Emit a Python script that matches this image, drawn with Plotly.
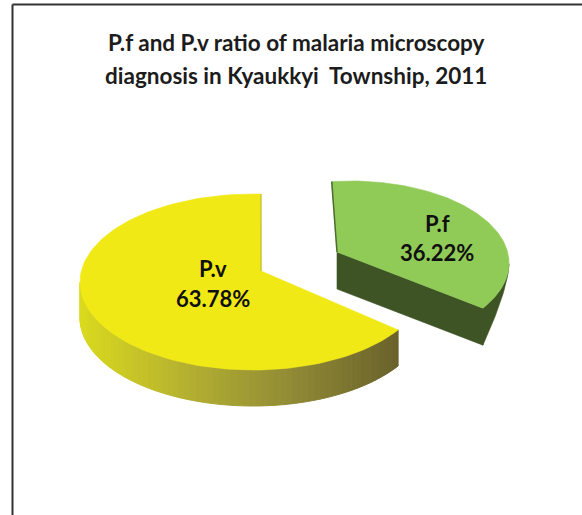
import numpy as np
import plotly.graph_objects as go

labels = ["P.v", "P.f"]
shares = [63.78, 36.22]
title_lines = ["P.f and P.v ratio of malaria microscopy", "diagnosis in Kyaukkyi  Township, 2011"]

W, H = 582, 515
FONT = "Lato"
TXT = "#1c1c1c"
DEPTH = 37
PERSPECTIVE_V = 239.6 / 229.6  # the tilted view widens the front slice's apparent sweep

sweep_v = shares[0] / sum(shares) * 360 * PERSPECTIVE_V
sweep_f = shares[1] / sum(shares) * 360


def rim(cx, cy, rx, ry, a0, a1, n=120):
    t = np.radians(np.linspace(a0, a1, n))
    return cx + rx * np.sin(t), cy - ry * np.cos(t)


def poly(fig, x, y, color, line=None, lw=0.6):
    fig.add_trace(go.Scatter(x=list(x), y=list(y), mode="lines", fill="toself",
                             fillcolor=color, line=dict(color=line or color, width=lw),
                             hoverinfo="skip", showlegend=False))


def ramp(f):
    stops = [(0.0, (218, 218, 30)), (0.33, (182, 178, 48)), (0.66, (146, 140, 54)), (1.0, (106, 98, 43))]
    for (p0, c0), (p1, c1) in zip(stops, stops[1:]):
        if f <= p1:
            k = (f - p0) / (p1 - p0)
            return "rgb(%d,%d,%d)" % tuple(round(a + (b - a) * k) for a, b in zip(c0, c1))
    return "rgb(106,98,43)"


fig = go.Figure()

# --- P.v (yellow): starts near 12 o'clock, runs anticlockwise
vx, vy = rim(253, 282, 173, 88, 2.6 - sweep_v, 2.6)
apex_v = (261, 271)
front = np.where(vy >= 280)[0]
xmin, xmax = vx[front].min(), vx[front].max()
for i in range(front[0], front[-1]):
    xs = [vx[i], vx[i + 1], vx[i + 1], vx[i], vx[i]]
    ys = [vy[i], vy[i + 1], vy[i + 1] + DEPTH - 1, vy[i] + DEPTH - 1, vy[i]]
    poly(fig, xs, ys, ramp((vx[i] - xmin) / (xmax - xmin)), lw=1)
poly(fig, [apex_v[0]] + list(vx) + [apex_v[0]], [apex_v[1]] + list(vy) + [apex_v[1]], "#F1E916")
fig.add_trace(go.Scatter(x=[vx[-1], apex_v[0]], y=[vy[-1], apex_v[1]], mode="lines",
                         line=dict(color="#C9C63A", width=1.5), hoverinfo="skip", showlegend=False))

# --- P.f (green): pulled out to the upper right
fx, fy = rim(351, 263, 158, 82, -7, -7 + sweep_f)
apex_f = (337, 252)
dark = "#3E5425"
poly(fig, [apex_f[0], fx[-1], fx[-1], apex_f[0], apex_f[0]],
     [apex_f[1], fy[-1], fy[-1] + DEPTH, apex_f[1] + DEPTH, apex_f[1]], dark)
# outer wall tapers away towards the rightmost rim point
peak = int(np.argmax(fx))
wxr, wyr = fx[peak:], fy[peak:]
taper = (wxr.max() - wxr) / (wxr.max() - wxr.min())
wx = list(wxr) + list(wxr[::-1])
wy = list(wyr) + list((wyr + DEPTH * taper)[::-1])
poly(fig, wx, wy, dark)
poly(fig, [apex_f[0]] + list(fx) + [apex_f[0]], [apex_f[1]] + list(fy) + [apex_f[1]], "#90CB57")
fig.add_trace(go.Scatter(x=[fx[0], apex_f[0]], y=[fy[0], apex_f[1]], mode="lines",
                         line=dict(color="#4F6B30", width=1.5), hoverinfo="skip", showlegend=False))

# --- Frame
fig.add_shape(type="line", x0=12.5, x1=12.5, y0=515, y1=4.5, line=dict(color="#333333", width=2))
fig.add_shape(type="line", x0=12.5, x1=582, y0=4.5, y1=4.5, line=dict(color="#333333", width=2))

# --- Texts
for txt, y in zip(title_lines, [42, 75]):
    fig.add_annotation(x=296, y=y, text=txt, showarrow=False, xanchor="center", yanchor="middle",
                       font=dict(family=FONT, size=22.5, color=TXT, weight="bold"))
for lab, val, x, y0, y1 in [(labels[0], shares[0], 213, 268, 298), (labels[1], shares[1], 437, 223, 252)]:
    fig.add_annotation(x=x, y=y0, text=lab, showarrow=False,
                       font=dict(family=FONT, size=22, color="#101010", weight="bold"))
    fig.add_annotation(x=x, y=y1, text=f"{val:.2f}%", showarrow=False,
                       font=dict(family=FONT, size=22, color="#101010", weight="bold"))

fig.update_xaxes(range=[0, W], visible=False, fixedrange=True)
fig.update_yaxes(range=[H, 0], visible=False, fixedrange=True)
fig.update_layout(width=W, height=H, margin=dict(l=0, r=0, t=0, b=0),
                  paper_bgcolor="white", plot_bgcolor="white", showlegend=False)
fig.write_html("out.html", config={"displayModeBar": False},
               post_script="document.body.style.margin='0';document.body.style.overflow='hidden';")
